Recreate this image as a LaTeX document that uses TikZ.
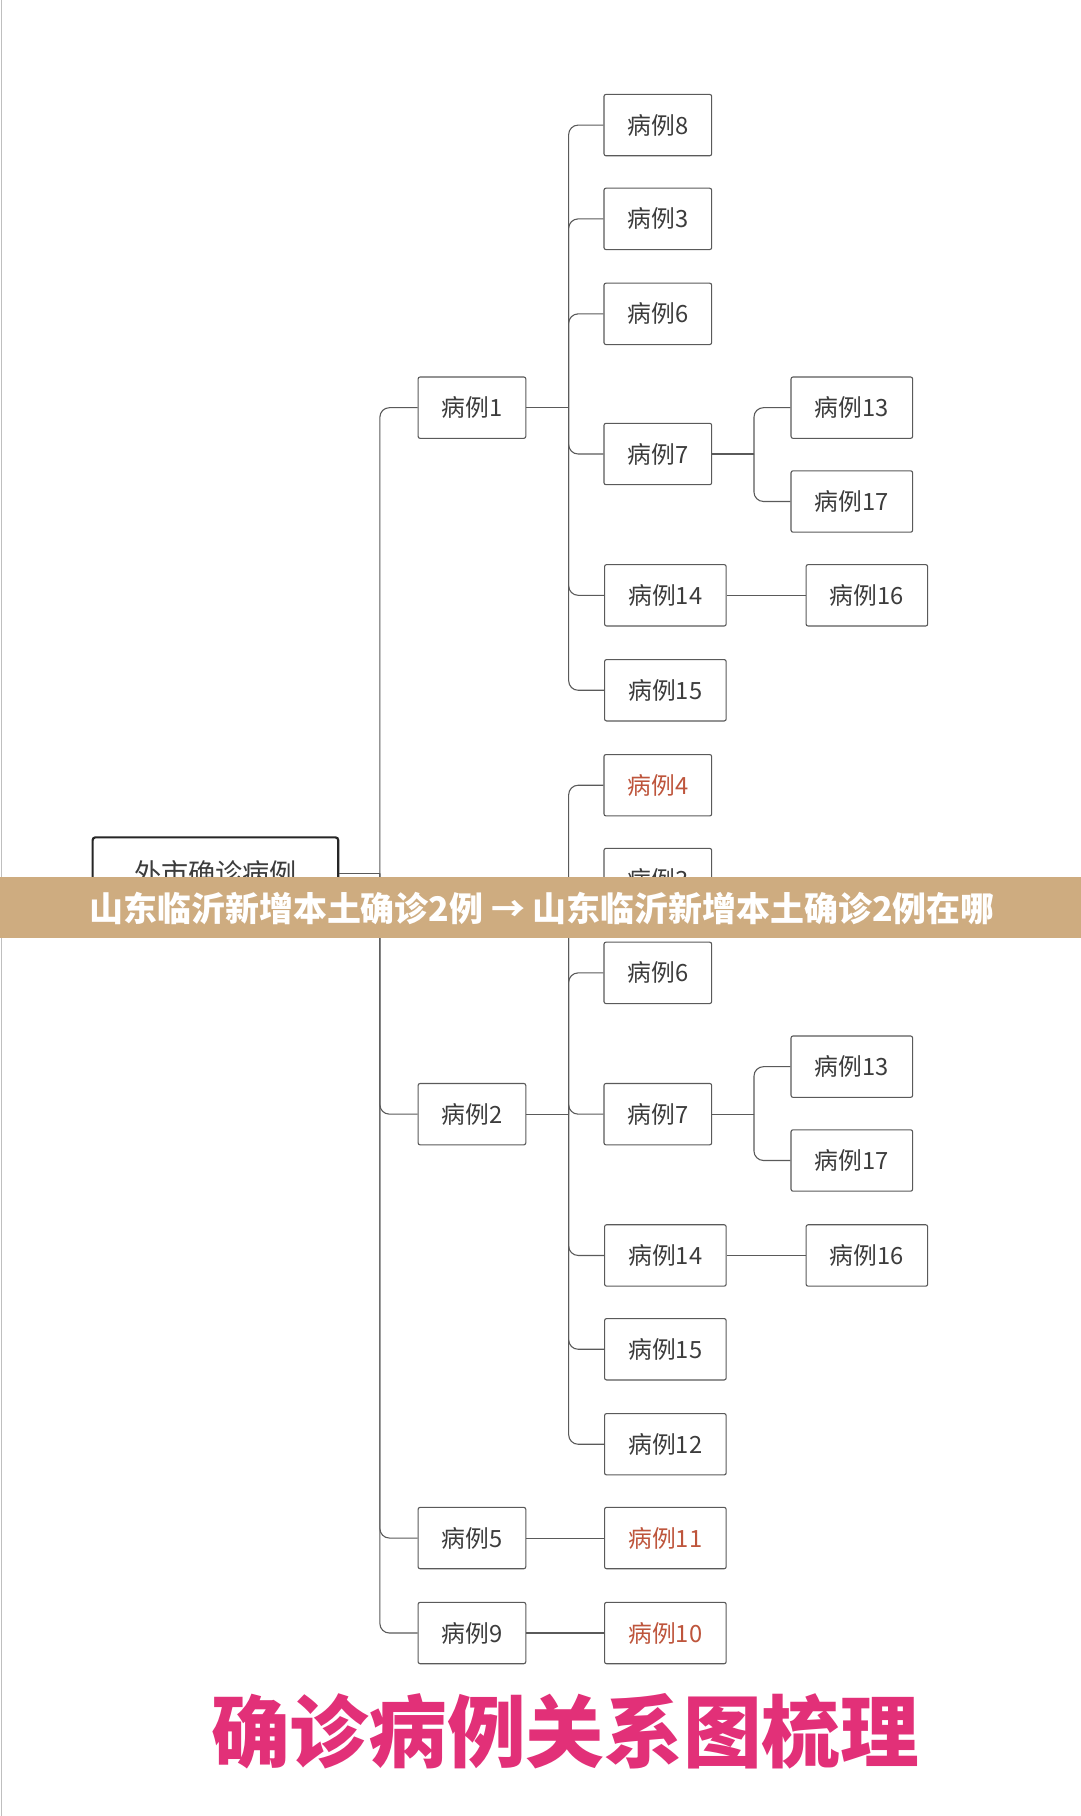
\documentclass[tikz,border=0pt]{standalone}
\usepackage{fontspec}
\setmainfont{Noto Sans CJK SC}
\definecolor{boxline}{RGB}{90,90,90}
\definecolor{txt}{RGB}{60,60,60}
\definecolor{redtxt}{RGB}{190,85,60}
\definecolor{banner}{RGB}{206,172,128}
\definecolor{title}{RGB}{226,48,120}
\begin{document}
\begin{tikzpicture}[x=0.03cm, y=-0.03cm, font=\fontsize{17.5}{20}\selectfont, text=txt,
    case/.style={draw=boxline, thick, rounded corners=1.5pt, minimum height=1.59cm, minimum width=2.79cm, inner sep=0pt},
    wide/.style={case, minimum width=3.15cm},
    hot/.style={text=redtxt},
    link/.style={draw=boxline, thick, rounded corners=7pt}]
    \useasboundingbox[fill=white] (0,0) rectangle (933,1568);
    \draw[black!25] (1,0) -- (1,1568);
    \node[draw=black!85, line width=1.6pt, rounded corners=2pt, minimum width=6.36cm, minimum height=1.86cm, font=\fontsize{20}{24}\selectfont](root) at (186,754){外市确诊病例};
    \node[case](a1) at (407.5,352){病例1};
    \node[case](a2) at (407.5,962){病例2};
    \node[case](a5) at (407.5,1328){病例5};
    \node[case](a9) at (407.5,1410){病例9};
    % branch of case 1
    \node[case](b8) at (568,108){病例8};
    \node[case](b3) at (568,189){病例3};
    \node[case](b6) at (568,271){病例6};
    \node[case](b7) at (568,392){病例7};
    \node[wide](b14) at (574.5,514){病例14};
    \node[wide](b15) at (574.5,596){病例15};
    \node[wide](b13) at (735.5,352){病例13};
    \node[wide](b17) at (735.5,433){病例17};
    \node[wide](b16) at (748.5,514){病例16};
    % branch of case 2
    \node[case, hot](c4) at (568,678){病例4};
    \node[case](c3) at (568,759){病例3};
    \node[case](c6) at (568,840){病例6};
    \node[case](c7) at (568,962){病例7};
    \node[wide](c14) at (574.5,1084){病例14};
    \node[wide](c15) at (574.5,1165){病例15};
    \node[wide](c12) at (574.5,1247){病例12};
    \node[wide](c13) at (735.5,921){病例13};
    \node[wide](c17) at (735.5,1002){病例17};
    \node[wide](c16) at (748.5,1084){病例16};
    \node[wide, hot](d11) at (574.5,1328){病例11};
    \node[wide, hot](d10) at (574.5,1410){病例10};

    \coordinate (j0) at (328,754);
    \coordinate (j1) at (491,352);
    \coordinate (j2) at (491,962);
    \coordinate (k1) at (651,392);
    \coordinate (k2) at (651,962);

\foreach \s/\t in {root/j0, a1/j1, a2/j2, b7/k1, c7/k2, b14/b16, c14/c16, a5/d11, a9/d10}{
    \draw[link] (\s.east) -- (\t);}
\foreach \s/\t in {j0/a1, j0/a2, j0/a5, j0/a9, j1/b8, j1/b3, j1/b6, j1/b7, j1/b14, j1/b15,
    j2/c4, j2/c3, j2/c6, j2/c7, j2/c14, j2/c15, j2/c12, k1/b13, k1/b17, k2/c13, k2/c17}{
    \draw[link] (\s) |- (\t.west);}

    \fill[banner] (0,757) rectangle (933,810);
    \node[text=white, font=\fontsize{25}{28}\selectfont\bfseries](ban) at (468,784){山东临沂新增本土确诊2例 → 山东临沂新增本土确诊2例在哪};
    \node[text=title, font=\fontsize{58}{64}\selectfont\bfseries](ttl) at (488,1495){确诊病例关系图梳理};
\end{tikzpicture}
\end{document}
